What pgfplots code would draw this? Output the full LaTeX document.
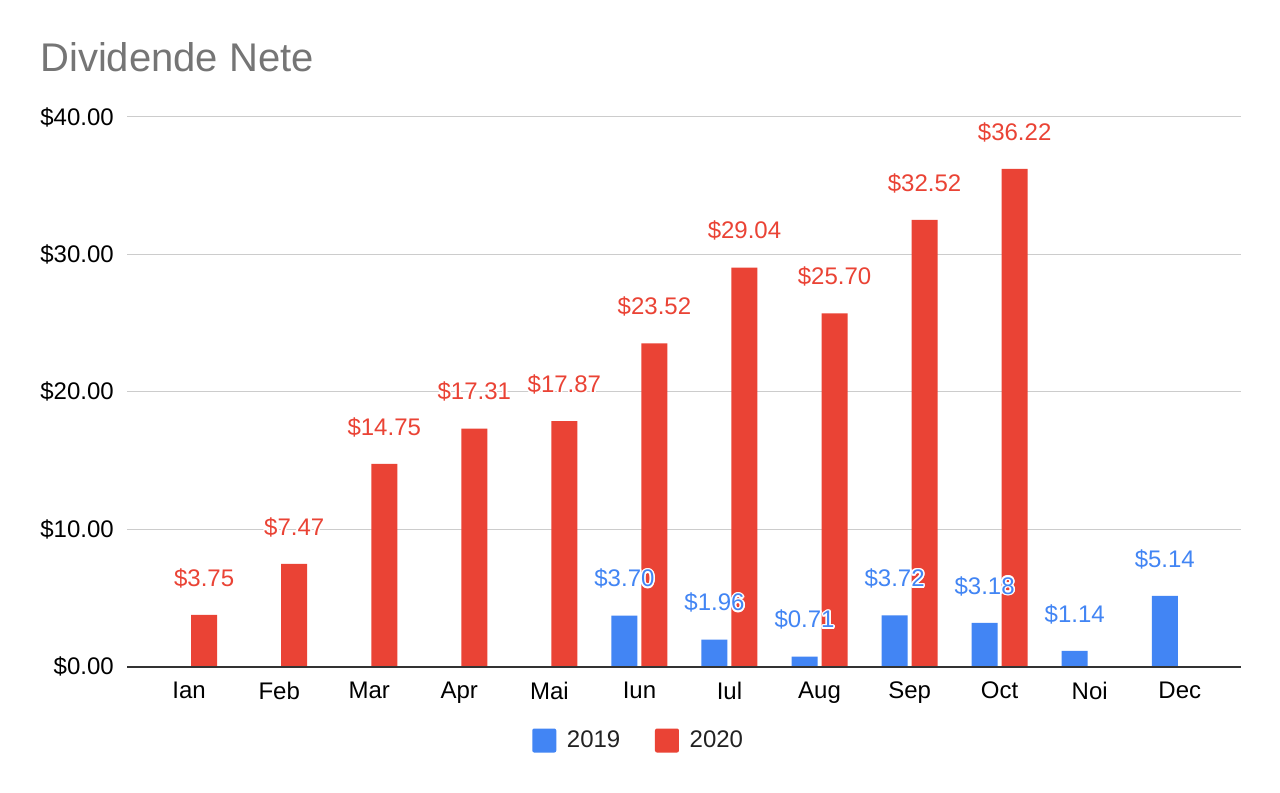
\documentclass[border=0pt]{standalone}
\usepackage{fontspec}
\setmainfont{Liberation Sans}
\usepackage{pgfplots}
\pgfplotsset{compat=1.18}
\usepackage{contour}
\contourlength{1.2pt}
\contournumber{12}
\definecolor{cblue}{HTML}{4285F4}
\definecolor{cred}{HTML}{EA4335}
\definecolor{gridc}{HTML}{CCCCCC}
\definecolor{axisc}{HTML}{333333}
\definecolor{titlec}{HTML}{757575}
\definecolor{legc}{HTML}{222222}
\begin{document}
\begin{tikzpicture}
\useasboundingbox (0,0) rectangle (960pt,594pt);
\fill[white] (0,0) rectangle (960pt,594pt);
\node[anchor=base west, inner sep=0pt, text=titlec, font=\fontsize{30}{36}\selectfont] at (30pt,540pt) {Dividende Nete};
\begin{axis}[
  at={(95.25pt,94.125pt)}, anchor=south west,
  scale only axis, width=835.5pt, height=412.125pt,
  xmin=-0.69, xmax=11.68, ymin=0, ymax=40,
  axis line style={draw=none},
  xtick={0,...,11},
  xticklabels={Ian,Feb,Mar,Apr,Mai,Iun,Iul,Aug,Sep,Oct,Noi,Dec},
  ytick={0,10,20,30,40},
  yticklabels={\$0.00,\$10.00,\$20.00,\$30.00,\$40.00},
  major tick length=0pt,
  ymajorgrids,
  grid style={gridc, line width=0.75pt},
  tick label style={font=\fontsize{18}{21}\selectfont, text=black},
  yticklabel style={inner sep=0pt, xshift=-9.75pt},
  xticklabel style={inner sep=0pt, anchor=north, yshift=-11.6pt},
  clip=false,
  legend columns=2, reverse legend,
  legend style={draw=none, fill=none, at={(0.4596,-0.1347)}, anchor=center,
    font=\fontsize{18}{21}\selectfont, text=legc,
    /tikz/every even column/.append style={column sep=24pt}},
  legend image code/.code={\fill[#1, rounded corners=1.5pt] (0pt,-9pt) rectangle (18pt,9pt); \path (24pt,0pt);},
  nodes near coords={\contour{white}{\$\pgfmathprintnumber[fixed,fixed zerofill,precision=2,assume math mode=true]{\pgfplotspointmeta}}},
]
\addplot[ybar, fill=cred, draw=none, bar width=0.2887, bar shift=0.1665,
  every node near coord/.append style={text=cred, anchor=center, xshift=11.25pt, yshift=27pt, font=\fontsize{18}{21}\selectfont}]
  coordinates {(0,3.75) (1,7.47) (2,14.75) (3,17.31) (4,17.87) (5,23.52) (6,29.04) (7,25.70) (8,32.52) (9,36.22)};
\addlegendentry{2020}
\addplot[ybar, fill=cblue, draw=none, bar width=0.2887, bar shift=-0.1665,
  every node near coord/.append style={text=cblue, anchor=center, xshift=-11.25pt, yshift=27pt, font=\fontsize{18}{21}\selectfont}]
  coordinates {(5,3.70) (6,1.96) (7,0.71) (8,3.72) (9,3.18) (10,1.14) (11,5.14)};
\addlegendentry{2019}
\draw[axisc, line width=1.5pt] (rel axis cs:0,0) -- (rel axis cs:1,0);
\end{axis}
\end{tikzpicture}
\end{document}
